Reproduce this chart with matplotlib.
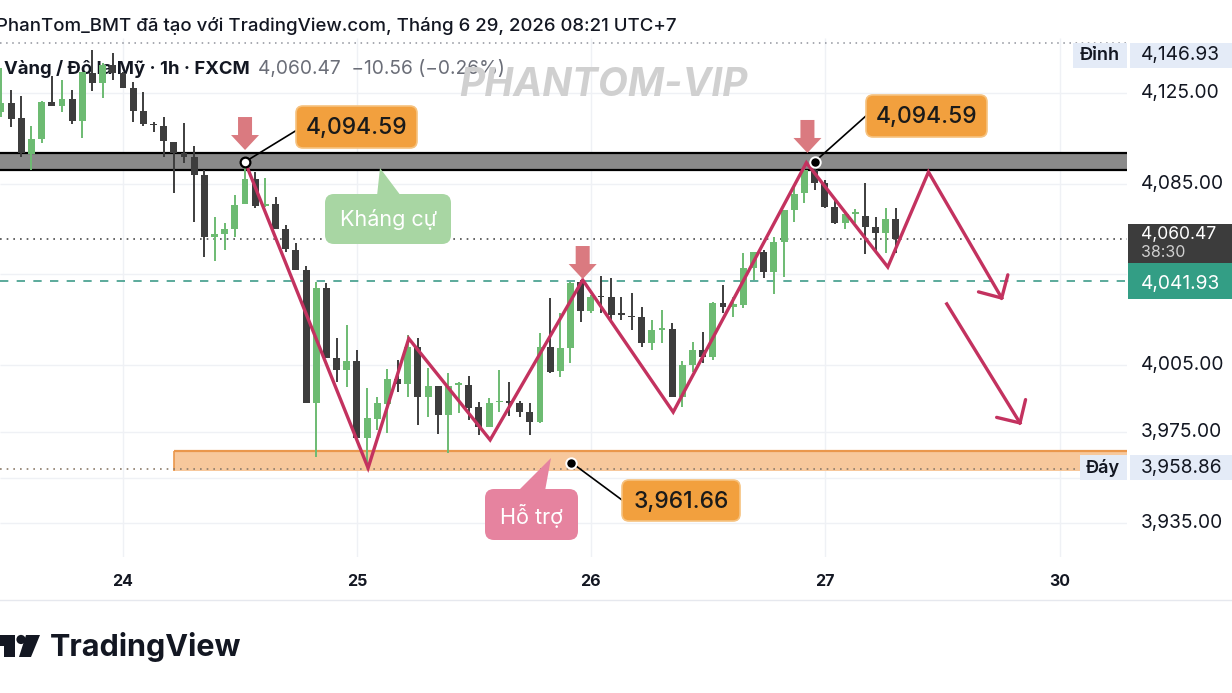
import matplotlib
matplotlib.use("Agg")
import matplotlib.pyplot as plt
import matplotlib.transforms as mtransforms
from matplotlib.patches import Rectangle, FancyBboxPatch, Polygon, Circle
import numpy as np

plt.rcParams['font.family'] = ['Inter', 'DejaVu Sans']

# ---- data: XAUUSD 1h (FXCM), bar 0 = first bar of the 24th ----
first_bar = -12
opens = [4116.6, 4120.6, 4114.0, 4098.0, 4104.7, 4121.0, 4119.3, 4122.3, 4112.6, 4133.8,
         4129.4, 4137.4, 4133.8, 4127.2, 4117.0, 4111.2, 4110.4, 4103.3, 4098.5, 4096.7,
         4088.8, 4061.4, 4062.7, 4064.9, 4075.9, 4087.0, 4075.0, 4076.0, 4065.0, 4055.6,
         4046.8, 3988.0, 4038.8, 4008.0, 4002.6, 4006.6, 3972.5, 3981.0, 3987.5, 3998.6,
         3996.4, 4012.7, 3990.6, 3995.5, 3982.7, 3996.0, 3996.0, 3986.2, 3977.4, 3988.4,
         3989.0, 3988.0, 3984.0, 3979.6, 4012.7, 4002.0, 4012.3, 4041.4, 4028.7, 4035.3,
         4034.8, 4027.4, 4026.5, 4026.0, 4014.5, 4020.3, 4020.7, 3990.6, 4004.8, 4011.4,
         4008.3, 4032.2, 4030.4, 4031.3, 4047.7, 4054.7, 4045.9, 4059.1, 4073.3, 4080.8,
         4091.0, 4085.2, 4074.6, 4067.5, 4071.5, 4070.6, 4065.8, 4063.1, 4069.3]
highs = [4136.0, 4126.3, 4123.7, 4110.4, 4121.5, 4132.5, 4130.7, 4126.3, 4134.3, 4144.0,
         4138.3, 4142.7, 4134.3, 4129.9, 4125.4, 4112.3, 4114.4, 4103.3, 4111.7, 4101.6,
         4091.0, 4070.2, 4067.5, 4079.9, 4094.59, 4090.0, 4087.4, 4079.0, 4066.7, 4058.7,
         4048.5, 4041.5, 4041.0, 4016.7, 4022.5, 4011.4, 3994.6, 3990.6, 4003.0, 4007.0,
         4018.0, 4016.7, 4003.5, 3995.5, 4001.2, 3997.3, 4000.0, 3988.4, 3990.2, 4002.4,
         3997.3, 3989.0, 3988.0, 4018.9, 4034.4, 4027.8, 4041.4, 4042.3, 4035.7, 4044.0,
         4043.2, 4034.8, 4036.6, 4030.4, 4024.7, 4029.0, 4023.4, 4006.6, 4015.0, 4019.4,
         4032.6, 4040.1, 4034.8, 4054.3, 4054.7, 4055.6, 4061.4, 4073.3, 4083.5, 4093.0,
         4094.59, 4086.5, 4078.6, 4072.4, 4073.7, 4085.2, 4070.2, 4074.2, 4074.2]
lows = [4114.4, 4110.0, 4096.7, 4091.0, 4103.0, 4119.3, 4116.6, 4111.3, 4105.0, 4126.0,
        4122.8, 4130.7, 4127.2, 4112.2, 4110.4, 4107.8, 4096.7, 4080.8, 4094.0, 4068.0,
        4052.5, 4050.7, 4055.6, 4061.4, 4075.9, 4074.0, 4074.6, 4065.0, 4054.7, 4046.8,
        3988.0, 3964.0, 4008.0, 3997.3, 3995.0, 3972.5, 3961.66, 3976.0, 3974.7, 3992.8,
        3990.6, 3978.3, 3981.8, 3974.3, 3965.8, 3983.6, 3980.5, 3973.9, 3977.4, 3984.0,
        3982.3, 3981.8, 3973.9, 3979.0, 4001.3, 3999.5, 4005.6, 4023.8, 4027.8, 4027.8,
        4023.4, 4024.7, 4020.3, 4012.7, 4011.4, 4014.5, 3990.6, 3986.2, 4001.7, 4005.6,
        4007.0, 4027.8, 4026.0, 4030.0, 4042.3, 4043.2, 4036.2, 4043.7, 4068.0, 4076.4,
        4082.0, 4074.2, 4067.0, 4064.9, 4067.5, 4053.8, 4054.3, 4054.3, 4054.3]
closes = [4120.6, 4113.5, 4098.5, 4104.7, 4121.0, 4119.3, 4122.3, 4112.6, 4134.3, 4129.4,
          4137.4, 4133.8, 4127.2, 4117.0, 4111.3, 4110.8, 4103.8, 4098.5, 4096.7, 4088.8,
          4061.4, 4062.7, 4064.9, 4075.5, 4087.0, 4075.0, 4076.0, 4065.0, 4056.0, 4046.8,
          3988.0, 4038.8, 4008.0, 4002.6, 4006.6, 3972.5, 3981.4, 3988.0, 3998.6, 3996.4,
          4012.7, 3990.6, 3995.5, 3982.7, 3995.5, 3997.0, 3986.0, 3977.4, 3988.0, 3989.0,
          3988.0, 3984.0, 3979.6, 4012.7, 4001.7, 4012.3, 4041.0, 4028.7, 4034.8, 4034.8,
          4027.0, 4027.0, 4026.0, 4014.5, 4020.3, 4021.0, 3990.6, 4004.8, 4011.4, 4008.3,
          4032.2, 4030.4, 4031.7, 4047.7, 4054.7, 4045.9, 4059.1, 4073.3, 4080.4, 4091.0,
          4085.2, 4074.6, 4067.5, 4071.5, 4072.4, 4065.8, 4063.1, 4069.3, 4060.47]

day_labels = ['24', '25', '26', '27', '30']
day_bars = [0, 23, 46, 69, 92.1]
price_ticks = [4125.00, 4085.00, 4005.00, 3975.00, 3935.00]
grid_prices = [4125, 4085, 4045, 4005, 3975, 3955, 3935]

high_price = 4146.93
last_price = 4060.47
countdown = '38:30'
prev_close = 4041.93
low_price = 3958.86
change, change_pct = -10.56, -0.26

resist_zone = (4091.0, 4098.5)
support_zone = (3958.0, 3966.8)
support_start = 5.0

zig_bars = [12, 24.1, 28.1, 36.1, 45.2, 54.1, 67.2, 75.2, 79.2, 86.4]
zig_prices = [4094.59, 3959.3, 4016.5, 3971.7, 4042.4, 3984.0, 4094.2, 4048.1, 4090.1, 4034.4]
arrow2_bars = [81.0, 88.2]
arrow2_prices = [4031.8, 3979.2]
marker_bars = [12, 45.2, 67.3]
marker_prices = [4099.8, 4042.8, 4098.5]
note_bars = [12, 68, 44.1]
note_prices = [4094.59, 4094.59, 3961.66]

# ---- layout (pixels) ----
W, H = 1232, 693
X0, BAR_PX = 123, 10.17
Y0, P0, USD_PX = 93, 4125.0, 2.263
AX_L, AX_R, AX_T, AX_B = 0, 1127, 38, 557

GREEN = '#6dbb72'
DARK = '#3d3d3d'
PINK = '#c3325f'
ORANGE = '#f2a03e'
TXT = '#131722'
AXIS_FS = 13.8


def px(b):
    return X0 + b * BAR_PX


def py(p):
    return Y0 + (P0 - p) * USD_PX


def fmt(v):
    return f'{v:,.2f}'


fig = plt.figure(figsize=(W / 100, H / 100), dpi=100)
fig.patch.set_facecolor('white')
ax = fig.add_axes([AX_L / W, 1 - AX_B / H, (AX_R - AX_L) / W, (AX_B - AX_T) / H])
ax.set_xlim((AX_L - X0) / BAR_PX, (AX_R - X0) / BAR_PX)
ax.set_ylim(P0 - (AX_B - Y0) / USD_PX, P0 - (AX_T - Y0) / USD_PX)
ax.axis('off')
x_lo, x_hi = ax.get_xlim()

pix = mtransforms.Affine2D().scale(1 / W, -1 / H).translate(0, 1) + fig.transFigure

# grid
ax.hlines(grid_prices, x_lo, x_hi, color='#eff1f5', lw=1, zorder=0.5)
ax.vlines(day_bars, *ax.get_ylim(), color='#eff1f5', lw=1, zorder=0.5)

# zones
ax.fill_between([x_lo, x_hi], resist_zone[0], resist_zone[1], color='#8a8a8a', zorder=1, lw=0)
ax.hlines(resist_zone, x_lo, x_hi, color='black', lw=1.6, zorder=1.1)
ax.fill_between([support_start, x_hi], support_zone[0], support_zone[1], color='#f7c89c', zorder=1, lw=0)
ax.hlines(support_zone[1], support_start, x_hi, color='#ea974c', lw=1.6, zorder=1.1)
ax.vlines(support_start, support_zone[0], support_zone[1], color='#ea974c', lw=1.2, zorder=1.1)

# price lines
ax.axhline(high_price, color='#8f929b', lw=1.1, ls=(0, (1, 3)), zorder=1.5)
ax.axhline(last_price, color='#4a4a4a', lw=1.2, ls=(0, (1, 3)), zorder=1.5)
ax.axhline(prev_close, color='#3f9c8a', lw=1.2, ls=(0, (5, 5)), zorder=1.5)
ax.axhline(low_price, color='#8a7a6a', lw=1.2, ls=(0, (1, 3)), zorder=1.5)

# legend texts (under the candles)
ax.text(4, 69, 'Vàng / Đô la Mỹ · 1h · FXCM', transform=pix, fontsize=13.3, weight='bold',
        color=TXT, va='center', ha='left', zorder=1.8)
ax.text(258, 69, f'{fmt(last_price)}  \u2212{abs(change):.2f} (\u2212{abs(change_pct):.2f}%)',
        transform=pix, fontsize=13.8, color='#6b6e78', va='center', ha='left', zorder=1.8)
ax.text(603, 86, 'PHANTOM-VIP', transform=pix, fontsize=28, weight='bold', style='italic',
        color='#d0d0d0', va='center', ha='center', zorder=1.8)

# candles
o = np.array(opens); h = np.array(highs); l = np.array(lows); c = np.array(closes)
bars = np.arange(first_bar, first_bar + len(o))
cols = np.where(c >= o, GREEN, DARK)
ax.vlines(bars, l, h, colors=cols, lw=1.4, zorder=3)
ax.bar(bars, np.maximum(np.abs(c - o), 0.6), bottom=np.minimum(o, c), width=0.68,
       color=cols, lw=0, zorder=3.1)

# zigzag path and arrows
ax.plot(zig_bars, zig_prices, color=PINK, lw=2.4, solid_joinstyle='miter', zorder=5)
ax.plot(arrow2_bars, arrow2_prices, color=PINK, lw=2.4, zorder=5)


def arrow_head(b1, p1, b2, p2, size=24):
    x1, y1, x2, y2 = px(b1), py(p1), px(b2), py(p2)
    d = np.array([x1 - x2, y1 - y2])
    d = d / np.hypot(*d)
    for a in (np.pi / 4, -np.pi / 4):
        r = np.array([[np.cos(a), -np.sin(a)], [np.sin(a), np.cos(a)]]) @ d
        ax.plot([x2, x2 + r[0] * size], [y2, y2 + r[1] * size], transform=pix,
                color=PINK, lw=2.4, solid_capstyle='round', zorder=5, clip_on=False)


arrow_head(zig_bars[-2], zig_prices[-2], zig_bars[-1], zig_prices[-1])
arrow_head(arrow2_bars[0], arrow2_prices[0], arrow2_bars[1], arrow2_prices[1])

# down markers
for b, p in zip(marker_bars, marker_prices):
    x, y = px(b), py(p)
    pts = [(x - 7, y - 33), (x + 7, y - 33), (x + 7, y - 15), (x + 14, y - 15), (x, y),
           (x - 14, y - 15), (x - 7, y - 15)]
    ax.add_patch(Polygon(pts, closed=True, transform=pix, fc='#da7a80', ec='none',
                         zorder=6, clip_on=False))

# price notes
note_boxes = [(296, 106, 121, 42), (866, 95, 121, 42), (622, 480, 118, 41)]
note_attach = [(297, 130), (867, 115), (622, 500)]
for i, (b, p) in enumerate(zip(note_bars, note_prices)):
    x, y = px(b), py(p)
    ax.plot([x, note_attach[i][0]], [y, note_attach[i][1]], transform=pix, color='black',
            lw=1.2, zorder=6, clip_on=False)
    if i == 0:
        ax.plot(x, y, 'o', ms=7, mfc='white', mec='black', mew=1.6, transform=pix, zorder=7, clip_on=False)
    else:
        ax.plot(x, y, 'o', ms=7.5, mfc='black', mec='white', mew=1.4, transform=pix, zorder=7, clip_on=False)
    bx, by, bw, bh = note_boxes[i]
    ax.add_patch(FancyBboxPatch((bx, by), bw, bh, boxstyle='round,pad=0,rounding_size=7',
                                transform=pix, fc=ORANGE, ec='#f6c27f', lw=1.2, zorder=7, clip_on=False))
    ax.text(bx + bw / 2, by + bh / 2 + 1, fmt(p), transform=pix, fontsize=16.5, color='#1a1a1a',
            weight='medium', ha='center', va='center', zorder=8)

# callouts
callouts = [('Kháng cự', (325, 194, 126, 50), [(377, 196), (380, 168), (401, 196)], '#a8d6a3'),
            ('Hỗ trợ', (485, 489, 93, 51), [(518, 491), (551, 458), (545, 491)], '#e6839f')]
for label, (bx, by, bw, bh), tri, col in callouts:
    ax.add_patch(FancyBboxPatch((bx, by), bw, bh, boxstyle='round,pad=0,rounding_size=9',
                                transform=pix, fc=col, ec='none', zorder=7, clip_on=False))
    ax.add_patch(Polygon(tri, closed=True, transform=pix, fc=col, ec='none', zorder=7, clip_on=False))
    ax.text(bx + bw / 2, by + bh / 2 + 1, label, transform=pix, fontsize=15.5, color='white',
            ha='center', va='center', zorder=8)

# header (cut at the left edge, as in the screenshot)
ax.text(-4, 26, 'PhanTom_BMT đã tạo với TradingView.com, Tháng 6 29, 2026 08:21 UTC+7',
        transform=pix, fontsize=13.4, color=TXT, weight='medium', ha='left', va='center')

# price scale
for p in price_ticks:
    ax.text(1141, py(p), fmt(p), transform=pix, fontsize=AXIS_FS, color=TXT, ha='left', va='center')

LBL_BG = '#e4ebf7'
for word, yc, wx in [('Đỉnh', 55, 1073), ('Đáy', py(low_price) - 1, 1080)]:
    ax.add_patch(Rectangle((wx, yc - 12.5), 1127 - wx, 25, transform=pix, fc=LBL_BG, ec='none',
                           zorder=8, clip_on=False))
    ax.add_patch(Rectangle((1130, yc - 12.5), W - 1130, 25, transform=pix, fc=LBL_BG, ec='none',
                           zorder=8, clip_on=False))
    ax.text(1100 if word == 'Đỉnh' else 1103, yc, word, transform=pix, fontsize=13, color=TXT,
            weight='semibold', ha='center', va='center', zorder=9)
    ax.text(1141, yc, fmt(high_price if word == 'Đỉnh' else low_price), transform=pix,
            fontsize=AXIS_FS, color=TXT, ha='left', va='center', zorder=9)

yl = py(last_price)
ax.add_patch(Rectangle((1128, yl - 15), W - 1128, 39, transform=pix, fc='#3c3c3c', ec='none',
                       zorder=8, clip_on=False))
ax.text(1141, yl - 5, fmt(last_price), transform=pix, fontsize=12.6, color='white', ha='left',
        va='center', zorder=9)
ax.text(1141, yl + 13.5, countdown, transform=pix, fontsize=11.5, color='#d0d0d0', ha='left',
        va='center', zorder=9)
ax.add_patch(Rectangle((1128, yl + 24), W - 1128, 36, transform=pix, fc='#339e85', ec='none',
                       zorder=8, clip_on=False))
ax.text(1141, py(prev_close) + 3, fmt(prev_close), transform=pix, fontsize=AXIS_FS, color='white',
        ha='left', va='center', zorder=9)

# time scale
for b, lab in zip(day_bars, day_labels):
    ax.text(px(b), 582, lab, transform=pix, fontsize=11.5, weight='bold', color=TXT,
            ha='center', va='center')
ax.plot([0, W], [600, 600], transform=pix, color='#e6e8ee', lw=1, clip_on=False)

# TradingView logo
ax.add_patch(Polygon([(0, 635), (15, 635), (15, 657), (4, 657), (4, 646), (0, 646)],
                     transform=pix, fc=TXT, ec='none', clip_on=False))
ax.add_patch(Circle((21, 639.5), 4.6, transform=pix, fc=TXT, ec='none', clip_on=False))
ax.add_patch(Polygon([(26, 635), (40, 635), (31, 657), (19, 657)], transform=pix, fc=TXT,
                     ec='none', clip_on=False))
ax.text(50, 647, 'TradingView', transform=pix, fontsize=22, weight='bold', color=TXT,
        ha='left', va='center')

fig.savefig('out.png', dpi=100, facecolor='white')
